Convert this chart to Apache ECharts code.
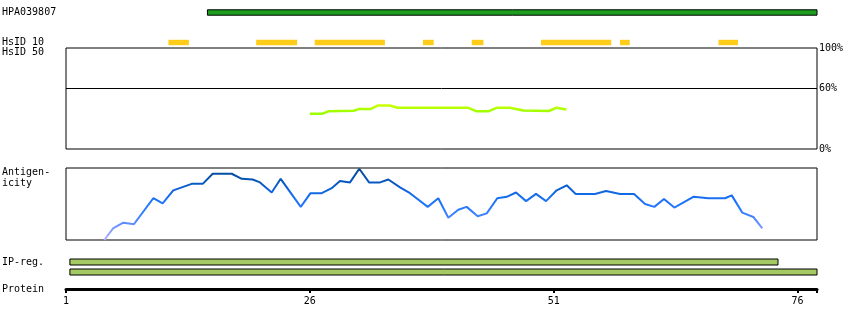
<!DOCTYPE html>
<html><head><meta charset="utf-8">
<script src="https://cdn.jsdelivr.net/npm/echarts@6/dist/echarts.min.js"></script>
<style>html,body{margin:0;padding:0;background:#fff}#c{width:850px;height:330px}</style>
</head><body><div id="c"></div>
<script>
// ---- data (residue units) ----
const proteinLength = 78;
const tickValues = [1, 26, 51, 76];
const hpaName = 'HPA039807';
const hpaRange = [[15.5, 78]];
const hsid10Ranges = [[11.5, 13.6], [20.5, 24.7], [26.5, 33.7], [37.6, 38.7], [42.6, 43.8], [49.7, 56.9], [57.8, 58.8], [67.9, 69.9]];
const hsid50Residue = [26.0, 27.3, 27.9, 30.5, 31.0, 32.2, 33.0, 34.2, 35.0, 42.2, 43.1, 44.3, 45.2, 46.5, 47.9, 50.5, 51.3, 52.3];
const hsid50Percent = [35, 35, 37.3, 37.9, 39.5, 39.5, 43.1, 43.1, 40.9, 40.9, 37.3, 37.3, 40.9, 40.9, 38.2, 37.6, 40.9, 39.2];
const antiResidue = [4.93, 5.82, 6.88, 7.97, 9.95, 10.91, 12.0, 13.89, 15.02, 16.04, 17.99, 19.02, 20.14, 20.89, 22.09, 23.01, 25.07, 26.07, 27.22, 28.24, 29.09, 30.12, 31.07, 32.07, 33.2, 34.05, 35.25, 36.27, 38.09, 39.17, 40.2, 41.22, 42.08, 43.21, 44.14, 45.22, 46.19, 47.14, 48.17, 49.19, 50.22, 51.31, 52.34, 53.26, 55.24, 56.37, 57.8, 59.24, 60.37, 61.32, 62.31, 63.37, 65.32, 66.86, 68.57, 69.26, 70.34, 71.47, 72.39];
const antiValue = [0.00, 0.16, 0.24, 0.22, 0.58, 0.51, 0.69, 0.78, 0.78, 0.92, 0.92, 0.85, 0.84, 0.80, 0.66, 0.85, 0.46, 0.65, 0.65, 0.72, 0.82, 0.80, 0.99, 0.80, 0.80, 0.84, 0.73, 0.65, 0.46, 0.58, 0.31, 0.42, 0.46, 0.33, 0.37, 0.58, 0.60, 0.66, 0.54, 0.64, 0.54, 0.69, 0.76, 0.64, 0.64, 0.68, 0.64, 0.64, 0.50, 0.46, 0.57, 0.45, 0.60, 0.58, 0.58, 0.62, 0.38, 0.32, 0.16];
const ipRegRanges = [[1.4, 74.0], [1.4, 78.0]];
const rowLabels = [hpaName, 'HsID 10', 'HsID 50', 'Antigen-', 'icity', 'IP-reg.', 'Protein'];
const pctLabels = [0, 60, 100];

// ---- chart ----
const FONT = 'DejaVu Sans Mono';
const L = 66, R = 33;
const chart = echarts.init(document.getElementById('c'), null, {renderer: 'canvas'});

function xAx(gi, extra) {
  return Object.assign({type: 'value', gridIndex: gi, min: 1, max: proteinLength, show: false}, extra || {});
}
function barRender(fill, hFrac, stroke) {
  return function (params, api) {
    const s = api.value(0), e = api.value(1), row = api.value(2);
    const p0 = api.coord([s, row]);
    const p1 = api.coord([e, row]);
    const h = api.size([0, 1])[1] * hFrac;
    return {
      type: 'rect',
      shape: {x: p0[0], y: p0[1] - h / 2, width: p1[0] - p0[0], height: h},
      style: {fill: fill, stroke: stroke ? '#000' : null, lineWidth: stroke ? 1 : 0}
    };
  };
}

const grids = [
  {left: L, right: R, top: 8, height: 9},      // 0 HPA
  {left: L, right: R, top: 38, height: 9},     // 1 HsID10
  {left: L, right: R, top: 48, height: 101, show: true, borderColor: '#000', borderWidth: 1}, // 2 HsID50
  {left: L, right: R, top: 168, height: 72, show: true, borderColor: '#000', borderWidth: 1}, // 3 antigenicity
  {left: L, right: R, top: 257, height: 20},   // 4 IP-reg
  {left: L, right: R, top: 281, height: 8}     // 5 protein axis
];

const option = {
  animation: false,
  grid: grids,
  xAxis: [
    xAx(0), xAx(1), xAx(2), xAx(3), xAx(4),
    xAx(5, {show: true, position: 'bottom',
      axisLine: {show: true, lineStyle: {color: '#000', width: 3}},
      axisTick: {show: true, customValues: tickValues.concat([proteinLength]), length: 4, lineStyle: {color: '#000', width: 2}},
      axisLabel: {show: true, customValues: tickValues, margin: 7, color: '#000', fontFamily: FONT, fontSize: 10},
      splitLine: {show: false}})
  ],
  yAxis: [
    {type: 'category', gridIndex: 0, data: ['a'], show: false},
    {type: 'category', gridIndex: 1, data: ['a'], show: false},
    {type: 'value', gridIndex: 2, min: 0, max: 100, interval: 20, position: 'right',
      axisLine: {show: false}, axisTick: {show: false}, splitLine: {show: false},
      axisLabel: {show: true, margin: 2, color: '#000', fontFamily: FONT, fontSize: 10,
        padding: [5, 0, 0, 0],
        formatter: v => pctLabels.indexOf(v) >= 0 ? v + '%' : ''}},
    {type: 'value', gridIndex: 3, min: 0, max: 1, show: false},
    {type: 'category', gridIndex: 4, data: ['a', 'b'], inverse: true, show: false},
    {type: 'value', gridIndex: 5, min: 0, max: 1, show: false}
  ],
  visualMap: [
    {show: false, type: 'continuous', seriesIndex: 2, dimension: 1, min: 35, max: 43,
      inRange: {color: ['#99ff00', '#aaff00', '#ccff00']}},
    {show: false, type: 'continuous', seriesIndex: 3, dimension: 1, min: 0, max: 1,
      inRange: {color: ['#b8acff', '#7f9bff', '#4c86ff', '#2a7bff', '#1a70f5', '#0d60d8', '#0552b0', '#0a4a8f']}}
  ],
  series: [
    {type: 'custom', xAxisIndex: 0, yAxisIndex: 0, renderItem: barRender('#1e9e1e', 0.6, true),
      data: hpaRange.map(r => [r[0], r[1], 0]), silent: true},
    {type: 'custom', xAxisIndex: 1, yAxisIndex: 1, renderItem: barRender('#ffcc1a', 0.6, false),
      data: hsid10Ranges.map(r => [r[0], r[1], 0]), silent: true},
    {type: 'line', xAxisIndex: 2, yAxisIndex: 2, showSymbol: false, smooth: false,
      lineStyle: {width: 2.5},
      data: hsid50Residue.map((r, i) => [r, hsid50Percent[i]]),
      markLine: {silent: true, symbol: 'none', label: {show: false},
        lineStyle: {color: '#000', width: 1, type: 'solid'}, data: [{yAxis: 60}]}},
    {type: 'line', xAxisIndex: 3, yAxisIndex: 3, showSymbol: false, smooth: false,
      lineStyle: {width: 2},
      data: antiResidue.map((r, i) => [r, antiValue[i]])},
    {type: 'custom', xAxisIndex: 4, yAxisIndex: 4, renderItem: barRender('#a5c963', 0.6, true),
      data: ipRegRanges.map((r, i) => [r[0], r[1], i]), silent: true}
  ],
  graphic: [
    {type: 'text', left: 2, top: 7, style: {text: rowLabels[0], font: '10px ' + FONT, fill: '#000'}},
    {type: 'text', left: 2, top: 37, style: {text: rowLabels[1], font: '10px ' + FONT, fill: '#000'}},
    {type: 'text', left: 2, top: 47, style: {text: rowLabels[2], font: '10px ' + FONT, fill: '#000'}},
    {type: 'text', left: 2, top: 167, style: {text: rowLabels[3], font: '10px ' + FONT, fill: '#000'}},
    {type: 'text', left: 2, top: 178, style: {text: rowLabels[4], font: '10px ' + FONT, fill: '#000'}},
    {type: 'text', left: 2, top: 257, style: {text: rowLabels[5], font: '10px ' + FONT, fill: '#000'}},
    {type: 'text', left: 2, top: 284, style: {text: rowLabels[6], font: '10px ' + FONT, fill: '#000'}}
  ]
};
chart.setOption(option);
</script>
</body></html>
